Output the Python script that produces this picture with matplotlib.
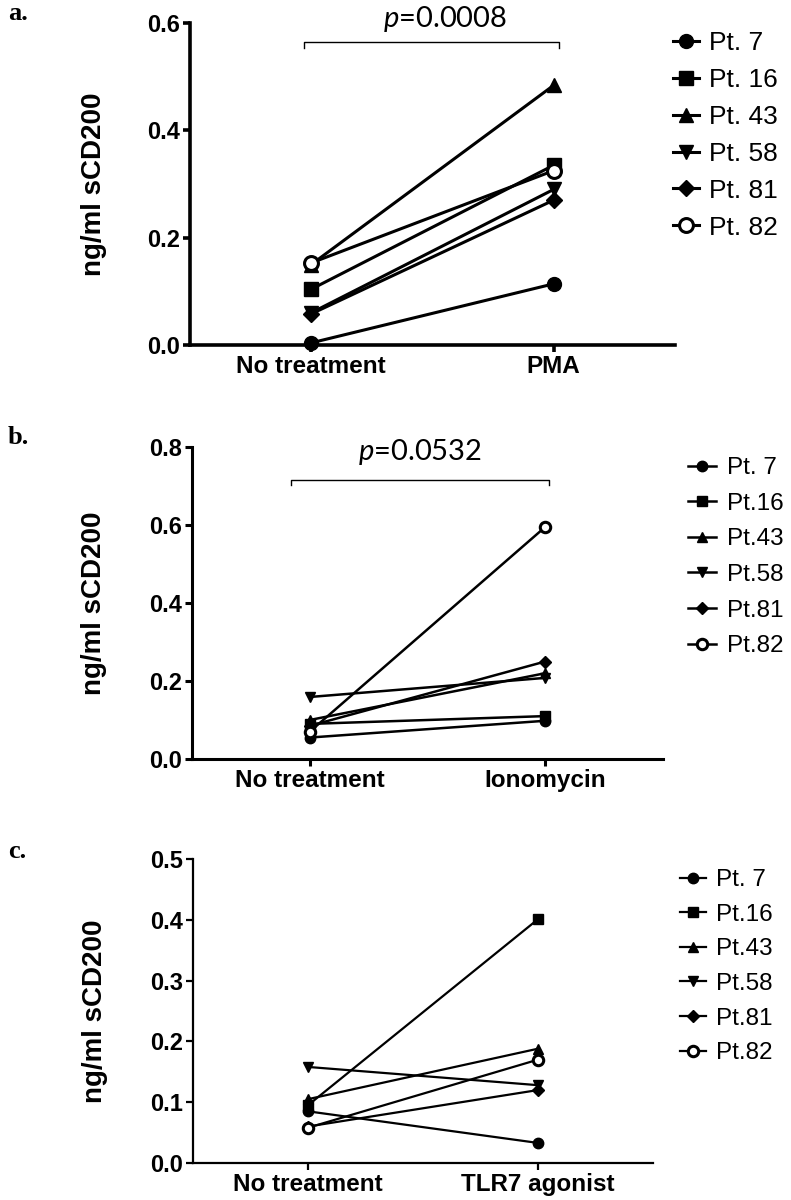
import matplotlib
matplotlib.use("Agg")
import matplotlib.pyplot as plt

plt.rcParams["mathtext.fontset"] = "custom"
plt.rcParams["mathtext.it"] = "Lato:italic"
plt.rcParams["mathtext.rm"] = "Lato"

patients_a = ["Pt. 7", "Pt. 16", "Pt. 43", "Pt. 58", "Pt. 81", "Pt. 82"]
patients_bc = ["Pt. 7", "Pt.16", "Pt.43", "Pt.58", "Pt.81", "Pt.82"]

# ng/ml sCD200, (no treatment, treated) for each patient
pma_before = [0.004, 0.104, 0.150, 0.060, 0.058, 0.153]
pma_after = [0.114, 0.335, 0.484, 0.290, 0.270, 0.325]

iono_before = [0.055, 0.090, 0.100, 0.159, 0.085, 0.070]
iono_after = [0.098, 0.110, 0.220, 0.208, 0.250, 0.595]

tlr_before = [0.085, 0.095, 0.105, 0.158, 0.060, 0.058]
tlr_after = [0.033, 0.401, 0.188, 0.128, 0.120, 0.170]

cats_a = ["No treatment", "PMA"]
cats_b = ["No treatment", "Ionomycin"]
cats_c = ["No treatment", "TLR7 agonist"]

markers = ["o", "s", "^", "v", "D", "o"]
sans = "Liberation Sans"

W, H = 791, 1200
fig = plt.figure(figsize=(W / 100, H / 100), dpi=100)


def panel(rect, before, after, cats, names, ymax, step, ms, lw, spine_w,
          letter, letter_y, lab_x, leg, leg_font, leg_hl, leg_pad, leg_sp):
    ax = fig.add_axes(rect)
    for i in range(len(names)):
        fc = "white" if i == 5 else "black"
        ax.plot([0, 1], [before[i], after[i]], color="black", lw=lw,
                marker=markers[i], ms=ms if markers[i] != "D" else ms * 0.8,
                mfc=fc, mec="black", mew=2.2 if i == 5 else 1,
                label=names[i], clip_on=False, zorder=3)
    ax.set_xlim(-0.5, 1.5)
    ax.set_ylim(0, ymax)
    ticks = [round(k * step, 1) for k in range(int(round(ymax / step)) + 1)]
    ax.set_yticks(ticks)
    ax.set_yticklabels(["%.1f" % t for t in ticks], fontfamily=sans,
                       fontweight="bold", fontsize=17)
    ax.set_xticks([0, 1])
    ax.set_xticklabels(cats, fontfamily=sans, fontweight="bold", fontsize=17.5)
    for s in ["top", "right"]:
        ax.spines[s].set_visible(False)
    for s in ["left", "bottom"]:
        ax.spines[s].set_linewidth(spine_w)
    ax.tick_params(width=spine_w, length=5, direction="out", pad=2)
    ax.set_ylabel("ng/ml sCD200", fontfamily=sans, fontweight="bold", fontsize=20)
    ax.yaxis.set_label_coords(lab_x, 0.5)
    fig.text(8 / W, 1 - letter_y / H, letter, fontfamily="Liberation Serif",
             fontweight="bold", fontsize=19, va="center")
    ax.legend(loc="upper left", bbox_to_anchor=(leg[0] / W, 1 - leg[1] / H),
              bbox_transform=fig.transFigure, frameon=False,
              handlelength=leg_hl, handletextpad=leg_pad, labelspacing=leg_sp,
              borderpad=0, borderaxespad=0, prop={"family": sans, "size": leg_font})
    return ax


ax_a = panel([190 / W, 1 - 345 / H, 485 / W, 322 / H], pma_before, pma_after,
             cats_a, patients_a, 0.6, 0.2, 10, 2.2, 2.6, "a.", 14, -0.171,
             (673, 31), 19, 1.0, 0.35, 0.49)
ax_b = panel([192 / W, 1 - 759 / H, 471 / W, 312 / H], iono_before, iono_after,
             cats_b, patients_bc, 0.8, 0.2, 7.5, 1.8, 2.2, "b.", 438, -0.18,
             (688, 457), 17.5, 1.15, 0.45, 0.56)
ax_c = panel([193 / W, 1 - 1163 / H, 460 / W, 304 / H], tlr_before, tlr_after,
             cats_c, patients_bc, 0.5, 0.1, 7.5, 1.6, 1.6, "c.", 851, -0.185,
             (680, 869), 17.5, 1.05, 0.45, 0.52)


def bracket(ax, x0, x1, y, leg, tx, ty, text):
    ax.plot([x0, x0, x1, x1], [y - leg, y, y, y - leg], color="black", lw=1,
            clip_on=False)
    ax.text(tx, ty, text, ha="center", va="center",
            fontfamily="Lato", fontsize=21, clip_on=False)


bracket(ax_a, -0.03, 1.02, 0.565, 0.012, 0.55, 0.607, "$p$=0.0008")
bracket(ax_b, -0.08, 1.017, 0.715, 0.012, 0.47, 0.787, "$p$=0.0532")

fig.savefig("out.png", dpi=100)
